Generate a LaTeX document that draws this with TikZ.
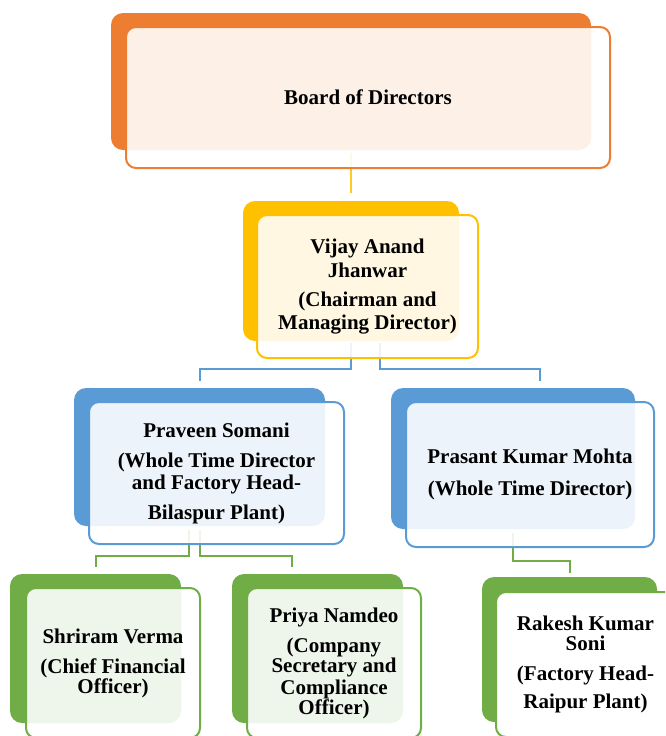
\documentclass[tikz,border=0pt]{standalone}
\usepackage{fontspec}
\setmainfont{Liberation Serif}
\usepackage{tikz}
\usetikzlibrary{positioning}
\definecolor{orgC}{HTML}{ED7D31}
\definecolor{goldC}{HTML}{FFC000}
\definecolor{blueC}{HTML}{5B9BD5}
\definecolor{greenC}{HTML}{70AD47}

\begin{document}
\begin{tikzpicture}[x=1pt,y=-1pt,
    backbox/.style={rectangle,rounded corners=12pt,inner sep=0pt},
    frontbox/.style={rectangle,rounded corners=10pt,line width=2pt,fill=white,
        fill opacity=0.885,text opacity=1,align=center,inner sep=0pt,
        font=\fontsize{21}{22}\selectfont\bfseries},
    link/.style={line width=2pt}]
    \clip (0,0) rectangle (665,736);
    \node[backbox,fill=orgC,minimum width=480pt,minimum height=137pt] (boardback) at (351,81.5) {};
    \node[backbox,fill=goldC,minimum width=216pt,minimum height=140pt] (vijayback) at (351,271) {};
    \node[backbox,fill=blueC,minimum width=251pt,minimum height=138pt] (praveenback) at (199.5,457) {};
    \node[backbox,fill=blueC,minimum width=244pt,minimum height=141pt] (prasantback) at (513,458.5) {};
    \node[backbox,fill=greenC,minimum width=171pt,minimum height=149pt] (shriramback) at (95.5,648.5) {};
    \node[backbox,fill=greenC,minimum width=171pt,minimum height=149pt] (priyaback) at (317.5,648.5) {};
    \node[backbox,fill=greenC,minimum width=175pt,minimum height=145pt] (rakeshback) at (569.5,649.5) {};
    \draw[link,goldC!85!white] ([yshift=-3pt]boardback.south) -- ([yshift=8pt]vijayback.north);
    \draw[link,blueC] ([yshift=-2pt]vijayback.south) |- ([yshift=19pt]praveenback.north)
        -- ([yshift=7pt]praveenback.north);
    \draw[link,blueC] ([xshift=29pt,yshift=-2pt]vijayback.south) |- ([xshift=27pt,yshift=19pt]prasantback.north)
        -- ([xshift=27pt,yshift=7pt]prasantback.north);
    \draw[link,greenC] ([xshift=-11pt,yshift=-4pt]praveenback.south) |- ([yshift=18pt]shriramback.north)
        -- ([yshift=7pt]shriramback.north);
    \draw[link,greenC] ([yshift=-4pt]praveenback.south) |- ([xshift=-26pt,yshift=18pt]priyaback.north)
        -- ([xshift=-26pt,yshift=7pt]priyaback.north);
    \draw[link,greenC] ([yshift=-4pt]prasantback.south) |- ([yshift=16pt]rakeshback.north)
        -- ([yshift=4pt]rakeshback.north);
    \node[frontbox,draw=orgC,minimum width=484pt,minimum height=141pt] (board) at (368,97.5)
        {Board of Directors};
    \node[frontbox,draw=goldC,minimum width=221pt,minimum height=143pt] (vijay) at (367.5,286.5)
        {Vijay Anand\\[2pt]Jhanwar\\[7pt](Chairman and\\[1pt]Managing Director)};
    \node[frontbox,draw=blueC,minimum width=255pt,minimum height=142pt] (praveen) at (216.5,473)
        {Praveen Somani\\[8pt](Whole Time Director\\and Factory Head-\\[8pt]Bilaspur Plant)};
    \node[frontbox,draw=blueC,minimum width=248pt,minimum height=145pt] (prasant) at (530,474.5)
        {Prasant Kumar Mohta\\[10pt](Whole Time Director)};
    \node[frontbox,draw=greenC,minimum width=174pt,minimum height=150pt] (shriram) at (113,663)
        {Shriram Verma\\[8pt](Chief Financial\\[-2pt]Officer)};
    \node[frontbox,draw=greenC,minimum width=174pt,minimum height=150pt] (priya) at (334,663)
        {Priya Namdeo\\[8pt](Company\\[-2pt]Secretary and\\Compliance\\[-2pt]Officer)};
    \node[frontbox,draw=greenC,fill opacity=1,minimum width=179pt,minimum height=145pt] (rakesh) at (585.5,664.5)
        {Rakesh Kumar\\[-2pt]Soni\\[8pt](Factory Head-\\[6pt]Raipur Plant)};
\end{tikzpicture}
\end{document}
